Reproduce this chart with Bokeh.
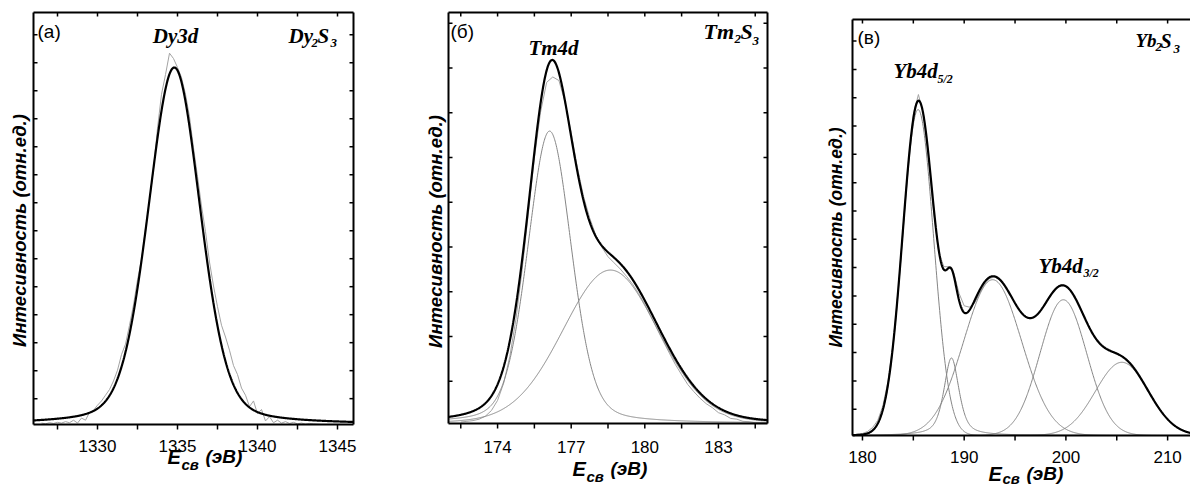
import numpy as np
from bokeh.plotting import figure
from bokeh.models import Range1d, Label
from bokeh.core.properties import value
from bokeh.layouts import row
from bokeh.embed import file_html
from bokeh.resources import INLINE

# ---------------- (a) Dy3d in Dy2S3 ----------------
dy_energy = np.arange(1326.5, 1344.001, 0.25)
dy_counts = [
    0.004, 0.002,
    0.005, 0.003, 0.006, 0.004,
    0.008, 0.005, 0.012, 0.004,
    0.018, 0.012, 0.034, 0.040,
    0.054, 0.066, 0.082, 0.098,
    0.122, 0.152, 0.196, 0.225,
    0.278, 0.335, 0.405, 0.462,
    0.548, 0.630, 0.715, 0.830,
    0.925, 0.980, 1.040, 1.025,
    1.000, 0.972, 0.925, 0.862,
    0.775, 0.695, 0.612, 0.540,
    0.455, 0.388, 0.330, 0.278,
    0.245, 0.208, 0.165, 0.140,
    0.102, 0.082, 0.050, 0.066,
    0.030, 0.042, 0.010, 0.022,
    0.005, 0.012, 0.004, 0.008,
    0.003, 0.006, 0.002, 0.004,
    0.001, 0.003, 0.002, 0.001,
    0.000,
]
# fitted peak: centre, height, FWHM, Lorentzian fraction
dy_center = [1334.8]
dy_height = [1.0]
dy_fwhm = [3.85]
dy_eta = [0.25]
dy_ticks = [1330, 1335, 1340, 1345]
dy_minor = [1327.5, 1332.5, 1337.5, 1342.5]

# ---------------- (б) Tm4d in Tm2S3 ----------------
tm_energy = np.arange(172.5, 185.001, 0.25)
tm_counts = [
    0.004, 0.006,
    0.008, 0.012, 0.020, 0.036,
    0.064, 0.112, 0.186, 0.290,
    0.425, 0.580, 0.735, 0.862,
    0.945, 0.960, 0.950, 0.890,
    0.805, 0.710, 0.630, 0.570,
    0.522, 0.488, 0.462, 0.445,
    0.428, 0.408, 0.386, 0.360,
    0.330, 0.296, 0.262, 0.228,
    0.195, 0.163, 0.135, 0.108,
    0.088, 0.070, 0.055, 0.044,
    0.030, 0.024, 0.014, 0.012,
    0.006, 0.005, 0.002, 0.003,
    0.001,
]
tm_center = [176.12, 178.6]
tm_height = [0.81, 0.425]
tm_fwhm = [2.1, 4.6]
tm_eta = [0.25, 0.1]
tm_ticks = [174, 177, 180, 183]
tm_minor = [172.5, 175.5, 178.5, 181.5, 184.5]

# ---------------- (в) Yb4d in Yb2S3 ----------------
yb_energy = np.arange(179.5, 212.001, 0.5)
yb_counts = [
    0.004,
    0.006, 0.012,
    0.024, 0.045,
    0.088, 0.160,
    0.272, 0.432,
    0.625, 0.815,
    0.960, 1.020,
    0.960, 0.825,
    0.668, 0.548,
    0.505, 0.505,
    0.484, 0.425,
    0.388, 0.384,
    0.395, 0.424,
    0.452, 0.470,
    0.474, 0.465,
    0.446, 0.422,
    0.394, 0.371,
    0.356, 0.350,
    0.357, 0.374,
    0.398, 0.421,
    0.440, 0.451,
    0.448, 0.433,
    0.408, 0.376,
    0.343, 0.313,
    0.290, 0.272,
    0.262, 0.254,
    0.247, 0.238,
    0.226, 0.209,
    0.189, 0.165,
    0.139, 0.113,
    0.089, 0.067,
    0.050, 0.035,
    0.024, 0.016,
    0.010,
]
yb_center = [185.47, 188.75, 192.8, 199.75, 205.5]
yb_height = [0.975, 0.232, 0.466, 0.406, 0.219]
yb_fwhm = [3.6, 1.75, 6.7, 5.4, 6.1]
yb_eta = [0.0, 0.6, 0.0, 0.0, 0.0]
yb_ticks = [180, 190, 200, 210]
yb_minor = [185, 195, 205]

Y_LABEL = "Интесивность (отн.ед.)"
SANS = "Liberation Sans"
SERIF = "Liberation Serif"
DATA_GRAY = "#a3a3a3"
COMP_GRAY = "#858585"
PAGE_H = 488
# the renderer sets "alphabetic" text a little below the anchor; compensate
TEXT_LIFT = 7
ROT_SHIFT = 8


def pseudo_voigt(x, c, h, w, eta):
    u = (x - c) / w
    g = np.exp(-4.0 * np.log(2.0) * u * u)
    lor = 1.0 / (1.0 + 4.0 * u * u)
    return h * ((1.0 - eta) * g + eta * lor)


class Panel:
    """One spectrum panel; the plotting box sits inside a canvas-filling frame
    so that titles and axis captions can live in the margins."""

    def __init__(self, page_left, width, box_px, xr, yr):
        self.fl, self.fr, self.ft, self.fb = box_px
        self.xr, self.yr = xr, yr
        self.kx = (xr[1] - xr[0]) / (self.fr - self.fl)
        self.ky = (yr[1] - yr[0]) / (self.fb - self.ft)
        x_lo = xr[0] - (self.fl - page_left) * self.kx
        x_hi = xr[1] + (page_left + width - self.fr) * self.kx
        y_lo = yr[0] - (PAGE_H - self.fb) * self.ky
        y_hi = yr[1] + self.ft * self.ky
        p = figure(width=width, height=PAGE_H, x_range=Range1d(x_lo, x_hi),
                   y_range=Range1d(y_lo, y_hi), output_backend="svg",
                   toolbar_location=None, x_axis_location=None, y_axis_location=None,
                   min_border=0)
        p.min_border_left = p.min_border_right = 0
        p.min_border_top = p.min_border_bottom = 0
        p.xgrid.visible = False
        p.ygrid.visible = False
        p.outline_line_color = None
        p.background_fill_color = "white"
        p.border_fill_color = "white"
        self.p = p

    def px_x(self, px):
        return self.xr[0] + (px - self.fl) * self.kx

    def px_y(self, py):
        return self.yr[0] + (self.fb - py) * self.ky

    def frame_box(self, ticks, minor, yticks, right_side=True, label_base=452):
        p, (x0, x1), (y0, y1) = self.p, self.xr, self.yr
        # box edges
        xs0 = [x0, x0, x0]
        ys0 = [y0, y1, y0]
        xs1 = [x1, x1, x0]
        ys1 = [y0, y1, y1]
        if right_side:
            xs0.append(x1); ys0.append(y0); xs1.append(x1); ys1.append(y1)
        p.segment(x0=xs0, y0=ys0, x1=xs1, y1=ys1, line_color="black", line_width=2)
        # energy ticks: outward below, inward on top
        all_x = list(ticks) + list(minor)
        n = len(all_x)
        p.segment(x0=all_x, y0=[y0] * n, x1=all_x, y1=[y0 - 5 * self.ky] * n,
                  line_color="black", line_width=1.5)
        p.segment(x0=all_x, y0=[y1] * n, x1=all_x, y1=[y1 - 4 * self.ky] * n,
                  line_color="black", line_width=1.5)
        # intensity ticks, inward
        m = len(yticks)
        p.segment(x0=[x0] * m, y0=yticks, x1=[x0 + 4 * self.kx] * m, y1=yticks,
                  line_color="black", line_width=1.5)
        if right_side:
            p.segment(x0=[x1] * m, y0=yticks, x1=[x1 - 4 * self.kx] * m, y1=yticks,
                      line_color="black", line_width=1.5)
        p.text(x=list(ticks), y=[self.px_y(label_base - TEXT_LIFT)] * len(ticks),
               text=[str(t) for t in ticks], text_align="center",
               text_baseline="alphabetic", text_font=value(SANS),
               text_font_size="17px", text_color="black")

    def add(self, text, px, py, size, font=SANS, style="normal", align="left", angle=0.0):
        if angle:
            px -= ROT_SHIFT
        else:
            py -= TEXT_LIFT
        self.p.add_layout(Label(x=self.px_x(px), y=self.px_y(py), text=text,
                                text_font=font, text_font_size=f"{size}px",
                                text_font_style=style, text_align=align,
                                text_baseline="alphabetic", text_color="black",
                                angle=angle))

    def x_title(self, x0, base, sub_dy=8):
        self.add("E", x0, base, 20, style="bold italic")
        self.add("св", x0 + 14, base + sub_dy, 15, style="bold italic")
        self.add("(эВ)", x0 + 38, base, 19, style="bold italic")

    def curves(self, energy, counts, centers, heights, fwhms, etas, show_components):
        p = self.p
        p.line(energy, counts, line_color=DATA_GRAY, line_width=1)
        grid = np.linspace(self.xr[0], self.xr[1], 800)
        total = np.zeros_like(grid)
        for c, h, w, e in zip(centers, heights, fwhms, etas):
            comp = pseudo_voigt(grid, c, h, w, e)
            total += comp
            if show_components:
                p.line(grid, comp, line_color=COMP_GRAY, line_width=1)
        p.line(grid, total, line_color="black", line_width=2.2)


# ---- panel (a)
pa = Panel(0, 400, (33, 353, 12, 424), (1326.0, 1346.0), (0.0, 1.154))
pa.curves(dy_energy, dy_counts, dy_center, dy_height, dy_fwhm, dy_eta, False)
pa.frame_box(dy_ticks, dy_minor, list(np.arange(-0.006 + 0.0784, 1.154, 0.0784)), True, 452)
pa.add("(a)", 37, 38, 19)
pa.add("Dy3d", 175, 42, 21, font=SERIF, style="bold italic", align="center")
pa.add("Dy", 288, 42, 21, font=SERIF, style="bold italic")
pa.add("2", 311, 49, 13, font=SERIF, style="bold italic")
pa.add("S", 317, 42, 21, font=SERIF, style="bold italic")
pa.add("3", 330, 49, 13, font=SERIF, style="bold italic")
pa.add(Y_LABEL, 27, 230, 18.5, style="bold italic", align="center", angle=np.pi / 2)
pa.x_title(167, 463)

# ---- panel (б)
pb = Panel(400, 400, (448, 767, 12, 423), (172.0, 185.0), (0.0, 1.1385))
pb.curves(tm_energy, tm_counts, tm_center, tm_height, tm_fwhm, tm_eta, True)
pb.frame_box(tm_ticks, tm_minor, list(np.arange(-0.007 + 0.124, 1.1385, 0.124)), True, 453)
pb.add("(б)", 450, 38, 19)
pb.add("Tm4d", 553, 54, 21, font=SERIF, style="bold italic", align="center")
pb.add("Tm", 703, 38, 22, font=SERIF, style="bold italic")
pb.add("2", 734, 45, 13, font=SERIF, style="bold italic")
pb.add("S", 740, 38, 22, font=SERIF, style="bold italic")
pb.add("3", 752, 47, 13, font=SERIF, style="bold italic")
pb.add(Y_LABEL, 443, 231, 18.5, style="bold italic", align="center", angle=np.pi / 2)
pb.x_title(572, 475)

# ---- panel (в)
pc = Panel(800, 390, (852, 1190, 19, 435), (179.02, 212.25), (0.0, 1.2444))
pc.curves(yb_energy, yb_counts, yb_center, yb_height, yb_fwhm, yb_eta, True)
pc.frame_box(yb_ticks, yb_minor, list(np.arange(-0.006 + 0.0847, 1.2444, 0.0847)), False, 463)
pc.add("(в)", 857, 44, 19)
pc.add("Yb", 1135, 47, 19, font=SERIF, style="bold italic")
pc.add("2", 1155, 53, 13, font=SERIF, style="bold italic")
pc.add("S", 1160, 47, 20, font=SERIF, style="bold italic")
pc.add("3", 1173, 55, 13, font=SERIF, style="bold italic")
pc.add("Yb4d", 893, 77, 21, font=SERIF, style="bold italic")
pc.add("5/2", 937, 85, 12, font=SERIF, style="bold italic")
pc.add("Yb4d", 1038, 272, 21, font=SERIF, style="bold italic")
pc.add("3/2", 1083, 279, 12, font=SERIF, style="bold italic")
pc.add(Y_LABEL, 843, 237, 17.5, style="bold italic", align="center", angle=np.pi / 2)
pc.x_title(988, 480, sub_dy=5)

layout = row(pa.p, pb.p, pc.p)
open("out.html", "w").write(file_html(layout, INLINE))
